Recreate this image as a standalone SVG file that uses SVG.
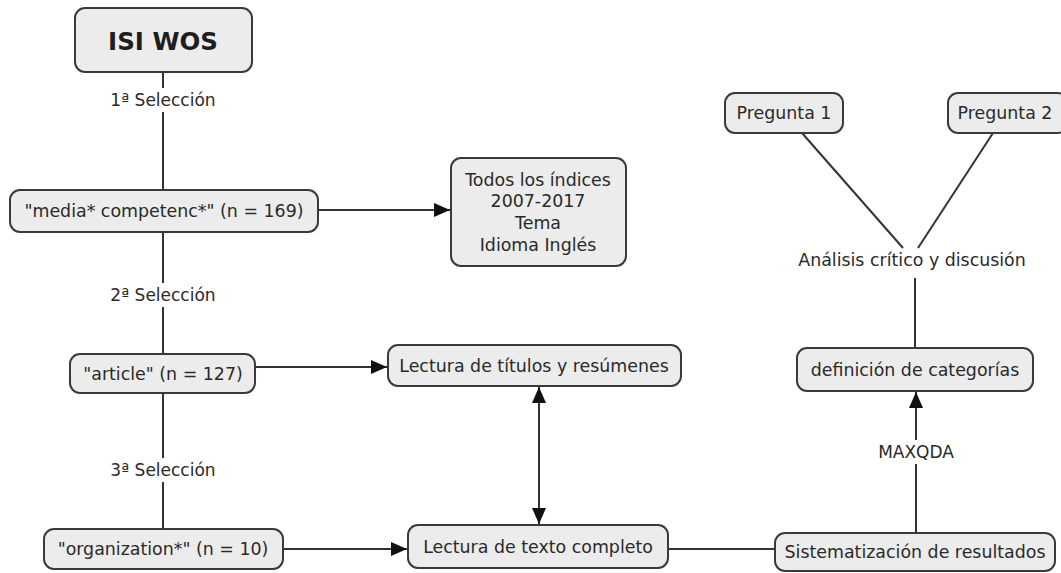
<svg xmlns="http://www.w3.org/2000/svg" width="1061" height="573" viewBox="0 0 1061 573">
<style>
.box{fill:#ececec;stroke:#3a3a3a;stroke-width:2}
.t{font-family:"DejaVu Sans",Verdana,sans-serif;font-size:17.4px;fill:#2a2a2a;text-anchor:middle}
.lbl{font-family:"DejaVu Sans",Verdana,sans-serif;font-size:17px;fill:#2a2a2a;text-anchor:middle}
.c{stroke:#333;stroke-width:2;fill:none}
</style>
<defs>
<marker id="ah2" viewBox="0 0 16 14" refX="16" refY="7" markerWidth="16" markerHeight="14" markerUnits="userSpaceOnUse" orient="auto-start-reverse">
<path d="M0,0 L16,7 L0,14 z" fill="#111"/>
</marker>
</defs>
<rect width="1061" height="573" fill="#fff"/>
<g id="connectors">
<line class="c" x1="163" y1="72" x2="163" y2="190"/>
<line class="c" x1="163" y1="232" x2="163" y2="354"/>
<line class="c" x1="163" y1="393" x2="163" y2="529"/>
<line class="c" x1="318" y1="210" x2="450" y2="210" marker-end="url(#ah2)"/>
<line class="c" x1="255" y1="367" x2="387" y2="367" marker-end="url(#ah2)"/>
<line class="c" x1="283" y1="549" x2="407" y2="549" marker-end="url(#ah2)"/>
<line class="c" x1="539" y1="387" x2="539" y2="524" marker-start="url(#ah2)" marker-end="url(#ah2)"/>
<line class="c" x1="668" y1="549" x2="774" y2="549"/>
<line class="c" x1="916" y1="533" x2="916" y2="392" marker-end="url(#ah2)"/>
<line class="c" x1="915" y1="348" x2="915" y2="278"/>
<line class="c" x1="802" y1="133" x2="903" y2="248"/>
<line class="c" x1="993" y1="133" x2="918" y2="248"/>
<rect x="100" y="88" width="126" height="24" fill="#fff"/>
<text class="lbl" x="163" y="106">1ª Selección</text>
<rect x="100" y="283" width="126" height="24" fill="#fff"/>
<text class="lbl" x="163" y="301">2ª Selección</text>
<rect x="100" y="458" width="126" height="24" fill="#fff"/>
<text class="lbl" x="163" y="476">3ª Selección</text>
<rect x="870" y="440" width="92" height="24" fill="#fff"/>
<text class="lbl" x="916" y="458">MAXQDA</text>
</g>
<g id="isi">
<rect class="box" x="75" y="8" width="177" height="64" rx="10"/>
<text x="163" y="50" style="font-family:'DejaVu Sans',Verdana,sans-serif;font-size:24.5px;font-weight:bold;fill:#1e1e1e;text-anchor:middle">ISI WOS</text>
</g>
<g id="media">
<rect class="box" x="10" y="190" width="308" height="42" rx="10"/>
<text class="t" x="164" y="217">"media* competenc*" (n = 169)</text>
</g>
<g id="todos">
<rect class="box" x="451" y="158" width="175" height="108" rx="10"/>
<text class="t" x="538" y="186">Todos los índices</text>
<text class="t" x="538" y="207">2007-2017</text>
<text class="t" x="538" y="229">Tema</text>
<text class="t" x="538" y="251">Idioma Inglés</text>
</g>
<g id="article">
<rect class="box" x="70" y="354" width="185" height="39" rx="10"/>
<text class="t" x="163" y="380">"article" (n = 127)</text>
</g>
<g id="titulos">
<rect class="box" x="388" y="345" width="293" height="41" rx="10"/>
<text class="t" x="534" y="372">Lectura de títulos y resúmenes</text>
</g>
<g id="organization">
<rect class="box" x="44" y="529" width="239" height="40" rx="10"/>
<text class="t" x="163" y="555">"organization*" (n = 10)</text>
</g>
<g id="texto">
<rect class="box" x="408" y="525" width="260" height="43" rx="10"/>
<text class="t" x="538" y="553">Lectura de texto completo</text>
</g>
<g id="sistematizacion">
<rect class="box" x="775" y="533" width="280" height="38" rx="10"/>
<text class="t" x="915" y="558">Sistematización de resultados</text>
</g>
<g id="definicion">
<rect class="box" x="797" y="348" width="236" height="43" rx="10"/>
<text class="t" x="915" y="376">definición de categorías</text>
</g>
<g id="analisis">
<text class="t" x="912" y="266">Análisis crítico y discusión</text>
</g>
<g id="pregunta1">
<rect class="box" x="725" y="93" width="118" height="40" rx="10"/>
<text class="t" x="784" y="119">Pregunta 1</text>
</g>
<g id="pregunta2">
<rect class="box" x="948" y="93" width="120" height="40" rx="10"/>
<text class="t" x="1005" y="119">Pregunta 2</text>
</g>
</svg>
